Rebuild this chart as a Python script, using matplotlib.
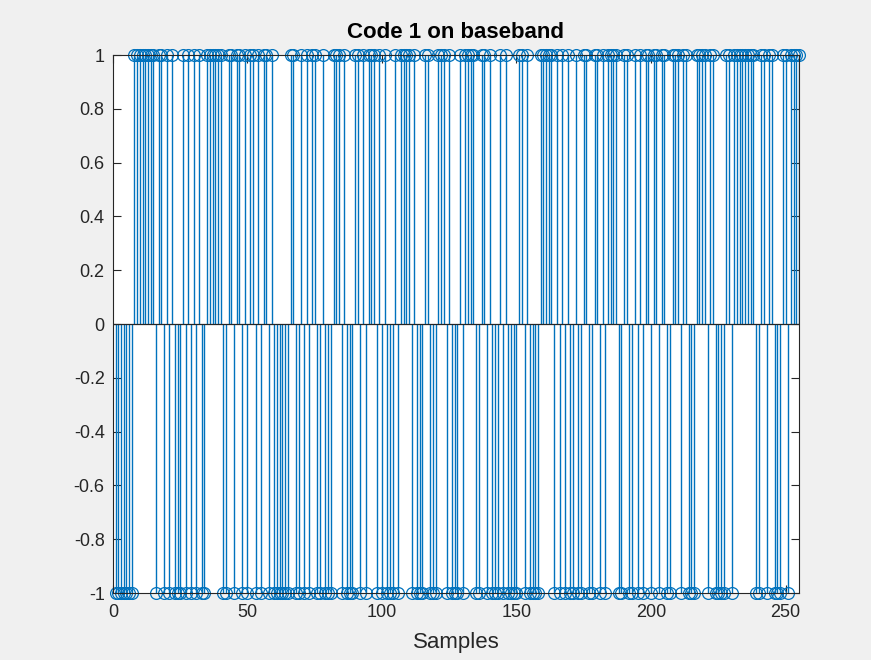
import matplotlib
matplotlib.use("Agg")
import matplotlib.pyplot as plt
import numpy as np

# chip values, samples 1..255
code = [
    -1, -1, -1, -1, -1, -1, -1, 1, 1, 1, 1, 1, 1, 1, 1, -1, 1, 1, -1, 1,
    -1, 1, -1, -1, -1, 1, -1, 1, -1, 1, -1, 1, -1, -1, 1, 1, 1, 1, 1, 1,
    -1, -1, 1, 1, -1, 1, 1, -1, 1, -1, 1, 1, -1, 1, -1, 1, 1, -1, 1, -1,
    -1, -1, -1, -1, -1, 1, 1, -1, -1, 1, -1, 1, -1, 1, 1, -1, -1, 1, -1, -1,
    -1, 1, 1, 1, -1, 1, -1, -1, -1, 1, 1, -1, 1, -1, 1, 1, 1, -1, 1, -1,
    1, -1, -1, -1, 1, -1, 1, 1, 1, 1, -1, 1, -1, -1, -1, 1, 1, -1, -1, -1,
    1, 1, 1, -1, 1, -1, -1, -1, 1, -1, 1, 1, 1, 1, -1, -1, 1, 1, -1, 1,
    -1, -1, -1, 1, -1, 1, -1, -1, -1, -1, 1, 1, -1, 1, -1, -1, -1, -1, 1, 1,
    1, 1, 1, -1, 1, -1, 1, -1, 1, -1, -1, 1, -1, -1, 1, 1, -1, -1, 1, 1,
    -1, 1, -1, 1, 1, 1, 1, -1, -1, 1, 1, -1, -1, 1, -1, 1, -1, 1, 1, -1,
    1, 1, -1, 1, 1, -1, -1, 1, 1, 1, -1, 1, 1, -1, -1, -1, 1, 1, 1, 1,
    -1, 1, 1, -1, -1, -1, -1, 1, 1, -1, 1, 1, 1, 1, 1, 1, 1, 1, -1, -1,
    1, 1, -1, 1, 1, -1, -1, -1, 1, 1, -1, 1, 1, 1, 1,
]
samples = np.arange(1, len(code) + 1)

x_ticks = [0, 50, 100, 150, 200, 250]
y_ticks = [-1, -0.8, -0.6, -0.4, -0.2, 0, 0.2, 0.4, 0.6, 0.8, 1]
y_tick_labels = ['-1', '-0.8', '-0.6', '-0.4', '-0.2', '0', '0.2', '0.4', '0.6', '0.8', '1']

blue = '#0072BD'
dark = '#262626'

plt.rcParams['font.family'] = ['Liberation Sans', 'DejaVu Sans']

fig = plt.figure(figsize=(8.71, 6.60), dpi=100, facecolor='#f0f0f0')
ax = fig.add_axes([0.1297, 0.1015, 0.7876, 0.815])
ax.set_facecolor('white')

markerline, stemlines, baseline = ax.stem(samples, code, linefmt='-', markerfmt='o', basefmt=' ')
stemlines.set_color(blue)
stemlines.set_linewidth(1.0)
markerline.set_markerfacecolor('none')
markerline.set_markeredgecolor(blue)
markerline.set_markersize(8.5)
markerline.set_markeredgewidth(0.9)
markerline.set_clip_on(False)
ax.axhline(0, color=dark, linewidth=0.9, zorder=3)

ax.set_xlim(0, 255)
ax.set_ylim(-1, 1)
ax.set_xticks(x_ticks)
ax.set_yticks(y_ticks)
ax.set_yticklabels(y_tick_labels)

for s in ax.spines.values():
    s.set_color(dark)
    s.set_linewidth(0.8)
ax.tick_params(direction='in', top=True, right=True, colors=dark, labelsize=13, length=6, width=0.8)
ax.tick_params(axis='x', pad=8)
ax.tick_params(axis='y', pad=6)

ax.set_title('Code 1 on baseband', fontsize=16, fontweight='bold', color='black', pad=12)
ax.set_xlabel('Samples', fontsize=16, color=dark, labelpad=8)

fig.savefig('out.png', dpi=100, facecolor=fig.get_facecolor())
